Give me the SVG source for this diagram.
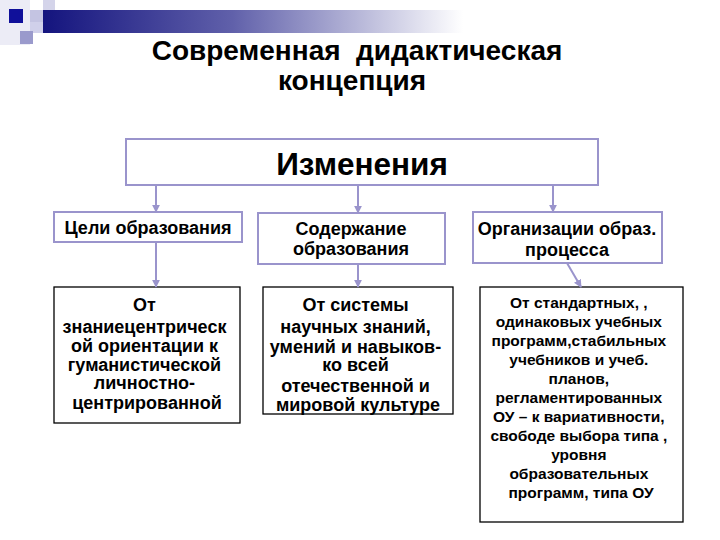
<svg xmlns="http://www.w3.org/2000/svg" width="720" height="540" viewBox="0 0 720 540">
<defs>
<linearGradient id="bar" x1="0" y1="0" x2="1" y2="0">
<stop offset="0" stop-color="#14147e"/>
<stop offset="0.45" stop-color="#6060aa"/>
<stop offset="1" stop-color="#ffffff"/>
</linearGradient>
<marker id="arr" viewBox="0 0 10 10" refX="9" refY="5" markerWidth="4" markerHeight="4" orient="auto">
<path d="M0,0 L10,5 L0,10 z" fill="#9a94cc"/>
</marker>
<style>
.t{font-family:"Liberation Sans",Arial,sans-serif;font-weight:bold;fill:#000;text-anchor:middle}
.lav{fill:#fff;stroke:#9a94cc;stroke-width:2}
.blk{fill:#fff;stroke:#000;stroke-width:1.3}
.con{stroke:#9a94cc;stroke-width:2;fill:none;marker-end:url(#arr)}
</style>
</defs>
<rect width="720" height="540" fill="#fff"/>
<g id="decor">
<rect x="0" y="0" width="30" height="45" fill="#ececf6"/>
<rect x="43" y="0" width="12" height="20" fill="#d4d4ea"/>
<rect x="30" y="10" width="25" height="12" fill="#c4c4e2"/>
<rect x="30" y="22" width="13" height="11" fill="#d0d0ea"/>
<rect x="43" y="10" width="420" height="23" fill="url(#bar)"/>
<rect x="9" y="9" width="14" height="14" fill="#10109a"/>
<rect x="20" y="31" width="13" height="13" fill="#9a9acc"/>
</g>
<g id="title">
<text class="t" x="357" y="60" font-size="28" xml:space="preserve">Современная  дидактическая</text>
<text class="t" x="352" y="90" font-size="28">концепция</text>
</g>
<g id="changes">
<rect class="lav" x="126" y="139" width="472" height="46"/>
<text class="t" x="362" y="175" font-size="31.5">Изменения</text>
</g>
<g id="goals">
<rect class="lav" x="54" y="212" width="188" height="30"/>
<text class="t" x="148" y="234" font-size="18">Цели образования</text>
</g>
<g id="content">
<rect class="lav" x="258" y="213" width="187" height="51"/>
<text class="t" x="351" y="235" font-size="18">Содержание</text>
<text class="t" x="351" y="255" font-size="18">образования</text>
</g>
<g id="organization">
<rect class="lav" x="473" y="212" width="189" height="51"/>
<text class="t" x="567" y="235" font-size="18">Организации образ.</text>
<text class="t" x="567" y="256" font-size="18">процесса</text>
</g>
<g id="goals-detail">
<rect class="blk" x="54" y="287" width="186" height="136"/>
<text class="t" font-size="18">
<tspan x="147" y="311">От</tspan>
<tspan x="147" y="333">знаниецентрическ</tspan>
<tspan x="147" y="352">ой ориентации к</tspan>
<tspan x="147" y="371">гуманистической</tspan>
<tspan x="147" y="389">личностно-</tspan>
<tspan x="147" y="409">центрированной</tspan>
</text>
</g>
<g id="content-detail">
<rect class="blk" x="263" y="287" width="190" height="127"/>
<text class="t" font-size="18">
<tspan x="358" y="311">От системы</tspan>
<tspan x="358" y="333">научных знаний,</tspan>
<tspan x="358" y="353">умений и навыков-</tspan>
<tspan x="358" y="371">ко всей</tspan>
<tspan x="358" y="392">отечественной и</tspan>
<tspan x="358" y="411">мировой культуре</tspan>
</text>
</g>
<g id="organization-detail">
<rect class="blk" x="480" y="287" width="203" height="235"/>
<text class="t" font-size="15.5">
<tspan x="581" y="308">От стандартных, ,</tspan>
<tspan x="581" y="327">одинаковых учебных</tspan>
<tspan x="581" y="346">программ,стабильных</tspan>
<tspan x="581" y="365">учебников и учеб.</tspan>
<tspan x="581" y="384">планов,</tspan>
<tspan x="581" y="403">регламентированных</tspan>
<tspan x="581" y="422">ОУ – к вариативности,</tspan>
<tspan x="581" y="441">свободе выбора типа ,</tspan>
<tspan x="581" y="460">уровня</tspan>
<tspan x="581" y="479">образовательных</tspan>
<tspan x="581" y="498">программ, типа ОУ</tspan>
</text>
</g>
<g id="connectors">
<line class="con" x1="156" y1="185" x2="156" y2="212"/>
<line class="con" x1="358" y1="185" x2="358" y2="213"/>
<line class="con" x1="553" y1="185" x2="553" y2="212"/>
<line class="con" x1="156" y1="242" x2="156" y2="287"/>
<line class="con" x1="358" y1="264" x2="358" y2="287"/>
<line class="con" x1="567" y1="263" x2="581" y2="287"/>
</g>
</svg>
